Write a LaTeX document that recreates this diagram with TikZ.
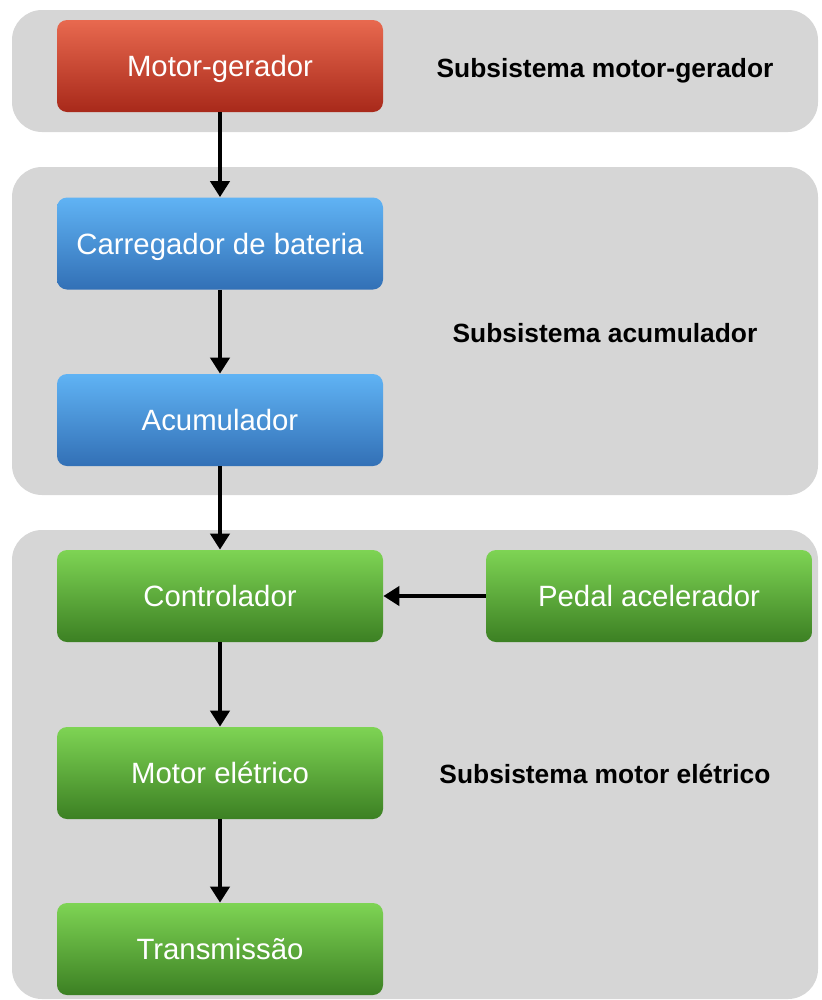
\documentclass[tikz,border=0pt]{standalone}
\usepackage{fontspec}
\setmainfont{Liberation Sans}
\usetikzlibrary{arrows.meta}

\definecolor{panelgrey}{HTML}{D6D6D6}
\definecolor{redtop}{HTML}{E8694F}
\definecolor{redbot}{HTML}{A8291A}
\definecolor{bluetop}{HTML}{60B3F4}
\definecolor{bluebot}{HTML}{3270B6}
\definecolor{greentop}{HTML}{7ED454}
\definecolor{greenbot}{HTML}{3C8023}

\tikzset{
  panel/.style={fill=panelgrey, rounded corners=0.6cm},
  block/.style={minimum width=6.52cm, minimum height=1.84cm, rounded corners=0.2cm,
    text=white, font=\fontsize{16.7}{20}\selectfont, text height=15.4pt, text depth=3pt},
  redblock/.style={block, top color=redtop, bottom color=redbot},
  blueblock/.style={block, top color=bluetop, bottom color=bluebot},
  greenblock/.style={block, top color=greentop, bottom color=greenbot},
  caption/.style={font=\bfseries\fontsize{15}{18}\selectfont, text height=14pt, text depth=3.2pt},
  flow/.style={-{Triangle[length=0.32cm,width=0.38cm]}, line width=0.08cm}
}

\begin{document}
\begin{tikzpicture}
            \useasboundingbox (0,0) rectangle (16.42,-20);
            % subsystem panels
            \fill[panel] (0.24,-0.2) rectangle (16.36,-2.64);
            \fill[panel] (0.24,-3.34) rectangle (16.36,-9.9);
            \fill[panel] (0.24,-10.6) rectangle (16.36,-19.98);

            \node[redblock] (gerador) at (4.4,-1.32) {Motor-gerador};
            \node[blueblock] (carregador) at (4.4,-4.87) {Carregador de bateria};
            \node[blueblock] (acumulador) at (4.4,-8.4) {Acumulador};
            \node[greenblock] (controlador) at (4.4,-11.92) {Controlador};
            \node[greenblock] (pedal) at (12.98,-11.92) {Pedal acelerador};
            \node[greenblock] (motor) at (4.4,-15.46) {Motor elétrico};
            \node[greenblock] (transmissao) at (4.4,-18.98) {Transmissão};

            \node[caption] (subgerador) at (12.1,-1.36) {Subsistema motor-gerador};
            \node[caption] (subacumulador) at (12.1,-6.66) {Subsistema acumulador};
            \node[caption] (submotor) at (12.1,-15.48) {Subsistema motor elétrico};

            \draw[flow] (gerador) -- (carregador);
            \draw[flow] (carregador) -- (acumulador);
            \draw[flow] (acumulador) -- (controlador);
            \draw[flow] (pedal) -- (controlador);
            \draw[flow] (controlador) -- (motor);
            \draw[flow] (motor) -- (transmissao);
        \end{tikzpicture}
\end{document}
